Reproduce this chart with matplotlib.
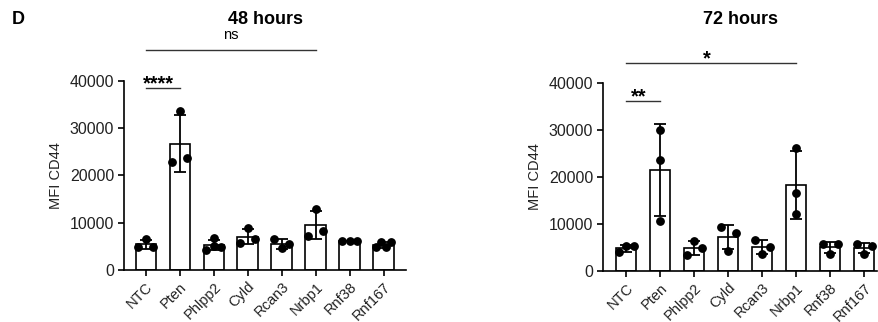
import matplotlib
matplotlib.use("Agg")
import matplotlib.pyplot as plt
import numpy as np

plt.rcParams['font.family'] = ['Liberation Sans', 'DejaVu Sans']

# categories shared by both panels
genes = ["NTC", "Pten", "Phlpp2", "Cyld", "Rcan3", "Nrbp1", "Rnf38", "Rnf167"]

# 48 hours, single replicates (listed left to right as they sit in the swarm)
h48_ntc = [4900, 6600, 4900]
h48_pten = [22900, 33700, 23700]
h48_phlpp2 = [4200, 6700, 5100, 4900]
h48_cyld = [5800, 8900, 6500]
h48_rcan3 = [6600, 4600, 5400]
h48_nrbp1 = [7300, 12900, 8250]
h48_rnf38 = [6200, 6200, 6200]
h48_rnf167 = [4800, 6000, 4800, 5850]

# 72 hours
h72_ntc = [3970, 5300, 5300]
h72_pten = [29950, 23500, 10700]
h72_phlpp2 = [6400, 3400, 4800]
h72_cyld = [9300, 4300, 8000]
h72_rcan3 = [6600, 3600, 5200]
h72_nrbp1 = [26200, 16500, 12100]
h72_rnf38 = [5700, 3600, 5700]
h72_rnf167 = [5700, 3600, 5300]

yticks = [0, 10000, 20000, 30000, 40000]

# significance brackets: (first group, second group, height, label)
h48_sig = [("NTC", "Nrbp1", 46500, "ns"), ("NTC", "Pten", 38500, "****")]
h72_sig = [("NTC", "Nrbp1", 44100, "*"), ("NTC", "Pten", 36000, "**")]


def swarm_offsets(vals, gap=1480, step=0.22):
    """
    Spread points that would overlap into a row centred on the category.
    """
    vals = np.asarray(vals, dtype=float)
    order = np.argsort(vals, kind="stable")
    clusters = []
    cur = [order[0]]
    for a, b in zip(order[:-1], order[1:]):
        if vals[b] - vals[a] < gap:
            cur.append(b)
        else:
            clusters.append(cur)
            cur = [b]
    clusters.append(cur)
    offs = np.zeros(len(vals))
    for c in clusters:
        c = sorted(c)
        if len(c) > 1:
            offs[c] = np.linspace(-step, step, len(c))
    return offs


def plot_panel(ax, groups, sig, xlim):
    """
    Bar = mean, error bar = SD, dots = replicates
    """
    x = np.arange(len(genes))
    means = [np.mean(g) for g in groups]
    sds = [np.std(g, ddof=1) for g in groups]

    ax.bar(x, means, width=0.6, color="white", edgecolor="black",
           linewidth=1.2, zorder=2)
    ax.errorbar(x, means, yerr=sds, fmt="none", ecolor="black",
                elinewidth=1.3, capsize=4.5, capthick=1.3, zorder=3)
    for i, g in enumerate(groups):
        ax.plot(x[i] + swarm_offsets(g), g, "o", color="black",
                markersize=5.3, zorder=4, clip_on=False)

    ax.set_xlim(xlim)
    ax.set_ylim(0, 40000)
    ax.set_yticks(yticks)
    ax.set_xticks(x)
    ax.set_xticklabels(genes, rotation=45, ha="right",
                       rotation_mode="anchor")
    ax.set_ylabel("MFI CD44", fontsize=10.5, color="#222222", labelpad=5)
    for side in ["top", "right"]:
        ax.spines[side].set_visible(False)
    for side in ["left", "bottom"]:
        ax.spines[side].set_linewidth(1.2)
    ax.tick_params(axis="both", length=4, width=1.2, labelcolor="#222222",
                   pad=3)
    ax.tick_params(axis="y", labelsize=11.5)
    ax.tick_params(axis="x", labelsize=10.5)

    for a, b, h, label in sig:
        i, j = genes.index(a), genes.index(b)
        ax.plot([i, j], [h, h], color="#333333", linewidth=1.0,
                clip_on=False)
        if label == "ns":
            ax.annotate(label, ((i + j) / 2, h), xytext=(0, 8),
                        textcoords="offset points", ha="center",
                        va="baseline", fontsize=10.5, annotation_clip=False)
        else:
            ax.annotate(label, ((i + j) / 2 - 0.12, h), xytext=(0, -1),
                        textcoords="offset points", ha="center",
                        va="baseline", fontsize=14.5, fontweight="bold",
                        annotation_clip=False)


def main():
    fig = plt.figure(figsize=(8.79, 3.22), dpi=100)
    ax1 = fig.add_axes([0.1411, 0.1615, 0.3208, 0.587])
    ax2 = fig.add_axes([0.686, 0.1584, 0.3117, 0.585])

    plot_panel(ax1, [h48_ntc, h48_pten, h48_phlpp2, h48_cyld, h48_rcan3,
                     h48_nrbp1, h48_rnf38, h48_rnf167], h48_sig, (-0.64, 7.66))
    plot_panel(ax2, [h72_ntc, h72_pten, h72_phlpp2, h72_cyld, h72_rcan3,
                     h72_nrbp1, h72_rnf38, h72_rnf167], h72_sig, (-0.68, 7.38))

    fig.text(265 / 879, 1 - 20 / 322, "48 hours", ha="center", va="center",
             fontsize=13, fontweight="bold")
    fig.text(741 / 879, 1 - 20 / 322, "72 hours", ha="center", va="center",
             fontsize=13, fontweight="bold")
    fig.text(18 / 879, 1 - 20 / 322, "D", ha="center", va="center",
             fontsize=13, fontweight="bold")

    fig.savefig("out.png", dpi=100)


if __name__ == "__main__":
    main()
